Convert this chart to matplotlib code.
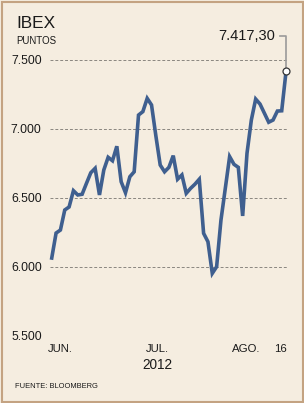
import numpy as np
import matplotlib.pyplot as plt
from matplotlib.patches import Rectangle

plt.rcParams['font.family'] = ['Liberation Sans', 'DejaVu Sans']

# IBEX close, trading days 1 Jun 2012 - 16 Aug 2012
ibex = [6065, 6246, 6268, 6413, 6435, 6553, 6522, 6527, 6606, 6683,
        6715, 6522, 6703, 6795, 6770, 6875, 6618, 6538, 6654, 6690,
        7101, 7126, 7222, 7174, 6950, 6739, 6690, 6722, 6807, 6636,
        6667, 6534, 6570, 6600, 6636, 6244, 6183, 5954, 6002, 6340,
        6570, 6800, 6744, 6722, 6370, 6824, 7065, 7217, 7181, 7115,
        7049, 7065, 7130, 7132, 7417.30]
yticks = [5500, 6000, 6500, 7000, 7500]
ytick_labels = ['5.500', '6.000', '6.500', '7.000', '7.500']
month_labels = ['JUN.', 'JUL.', 'AGO.', '16']
month_pos = [2.1, 24.3, 44.9, 52.8]
last_label = '7.417,30'

W, H = 304, 403
bg = '#f5ede0'
line_col = '#3f5f8f'

fig = plt.figure(figsize=(W / 100, H / 100), dpi=100, facecolor=bg)
fig.patches.append(Rectangle((1.5 / W, 1.5 / H), (W - 3) / W, (H - 3) / H,
                             transform=fig.transFigure, fill=False,
                             edgecolor='#c4a382', linewidth=1.5))

ax = fig.add_axes([50 / W, (H - 336) / H, 238 / W, 276 / H])
ax.set_facecolor(bg)
x = np.arange(len(ibex))
ax.plot(x, ibex, color=line_col, linewidth=2.6, solid_joinstyle='miter',
        clip_on=False, zorder=3)
ax.set_xlim(-0.4, 54.45)
ax.set_ylim(5500, 7500)
for s in ax.spines.values():
    s.set_visible(False)

for v in yticks:
    ax.axhline(v, color='#8a8680', linewidth=0.7, linestyle=(0, (3, 2)), zorder=1)
ax.set_yticks(yticks)
ax.set_yticklabels(ytick_labels, fontsize=8.8, color='#1a1a1a')
ax.tick_params(axis='y', length=0, pad=6)
ax.set_xticks([])

# months along the bottom
for lab, p in zip(month_labels, month_pos):
    ax.text(p, 5445, lab, ha='center', va='top', fontsize=8.2, color='#1a1a1a')
ax.text(24.3, 5340, '2012', ha='center', va='top', fontsize=9.8, color='#1a1a1a')

# last value callout
xl, yl = x[-1], ibex[-1]
ax.plot([xl - 1.4, xl, xl], [7672, 7672, yl], color='#9a9a9a', linewidth=1.2,
        clip_on=False, zorder=2)
ax.plot(xl, yl, 'o', markersize=5, markerfacecolor='white',
        markeredgecolor='#333333', markeredgewidth=0.9, clip_on=False, zorder=4)
ax.text(xl - 2.5, 7672, last_label, ha='right', va='center', fontsize=10.5,
        color='#1a1a1a')

fig.text(16 / W, 1 - 28 / H, 'IBEX', fontsize=12.4, color='#1a1a1a')
fig.text(16 / W, 1 - 44.5 / H, 'PUNTOS', fontsize=7, color='#1a1a1a')
fig.text(15 / W, 1 - 387.5 / H, 'FUENTE: BLOOMBERG', fontsize=5.4, color='#1a1a1a')

fig.savefig('out.png', dpi=100, facecolor=bg)
